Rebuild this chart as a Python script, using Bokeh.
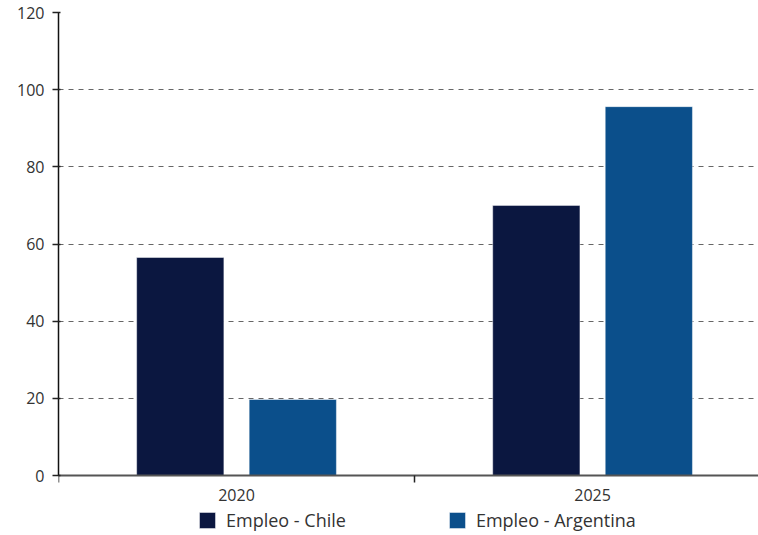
import numpy as np
from bokeh.plotting import figure
from bokeh.models import ColumnDataSource, Range1d, FixedTicker, Legend, LegendItem
from bokeh.transform import dodge
from bokeh.embed import file_html
from bokeh.resources import INLINE

years = ["2020", "2025"]
chile = [56.5, 70.0]
argentina = [19.7, 95.6]
series_names = ["Empleo - Chile", "Empleo - Argentina"]
colors = ["#0B1740", "#0B4F8B"]
y_ticks = [0, 20, 40, 60, 80, 100, 120]

FONT = "Open Sans"
centers = list(np.arange(len(years)) + 0.5)
src = ColumnDataSource(dict(x=centers, chile=chile, argentina=argentina))

# frame extends below zero so the legend fits inside the drawing area
px_per_unit = 463 / 120.0
y_bottom = -60 / px_per_unit

p = figure(width=758, height=535, output_backend="svg", toolbar_location=None,
           x_range=Range1d(0, 1.966), y_range=Range1d(y_bottom, 120),
           min_border_left=58, min_border_right=0, min_border_top=12, min_border_bottom=0,
           frame_width=700, frame_height=523)
p.outline_line_color = None

r1 = p.vbar(x=dodge("x", -0.158), top="chile", bottom=0, width=0.245, source=src,
            fill_color=colors[0], line_color="white", line_alpha=0.45, line_width=1)
r2 = p.vbar(x=dodge("x", 0.158), top="argentina", bottom=0, width=0.245, source=src,
            fill_color=colors[1], line_color="white", line_alpha=0.45, line_width=1)

p.xgrid.visible = False
p.ygrid.ticker = FixedTicker(ticks=y_ticks)
p.ygrid.grid_line_color = "#666666"
p.ygrid.grid_line_dash = "5 5"
p.ygrid.grid_line_width = 1

xa = p.xaxis[0]
xa.fixed_location = 0
xa.ticker = FixedTicker(ticks=centers, minor_ticks=[0, 1, 2])
xa.major_label_overrides = {c: y for c, y in zip(centers, years)}
xa.major_tick_line_color = None
xa.major_tick_out = 0
xa.major_tick_in = 0
xa.minor_tick_out = 7
xa.minor_tick_in = 0
xa.minor_tick_line_color = "#222222"
xa.minor_tick_line_width = 1.5
xa.axis_line_color = "#555555"
xa.axis_line_width = 2
xa.major_label_standoff = 6
xa.major_label_text_font = FONT
xa.major_label_text_font_size = "16px"
xa.major_label_text_color = "#333333"

ya = p.yaxis[0]
ya.bounds = (0, 120)
ya.ticker = FixedTicker(ticks=y_ticks)
ya.axis_line_color = "#111111"
ya.axis_line_width = 1.5
ya.major_tick_line_color = "#222222"
ya.major_tick_line_width = 1.5
ya.major_tick_out = 6
ya.major_tick_in = 2
ya.minor_tick_line_color = None
ya.major_label_standoff = 8
ya.major_label_text_font = FONT
ya.major_label_text_font_size = "16px"
ya.major_label_text_color = "#333333"

legend = Legend(items=[LegendItem(label=series_names[0], renderers=[r1]),
                       LegendItem(label=series_names[1], renderers=[r2])],
                orientation="horizontal", location=(139, 3),
                padding=0, margin=0, spacing=101,
                glyph_width=20, glyph_height=20, label_standoff=9,
                label_text_font=FONT, label_text_font_size="18px",
                label_text_color="#333333", border_line_color=None,
                background_fill_alpha=0)
p.add_layout(legend, "center")

open("out.html", "w").write(file_html(p, INLINE))
